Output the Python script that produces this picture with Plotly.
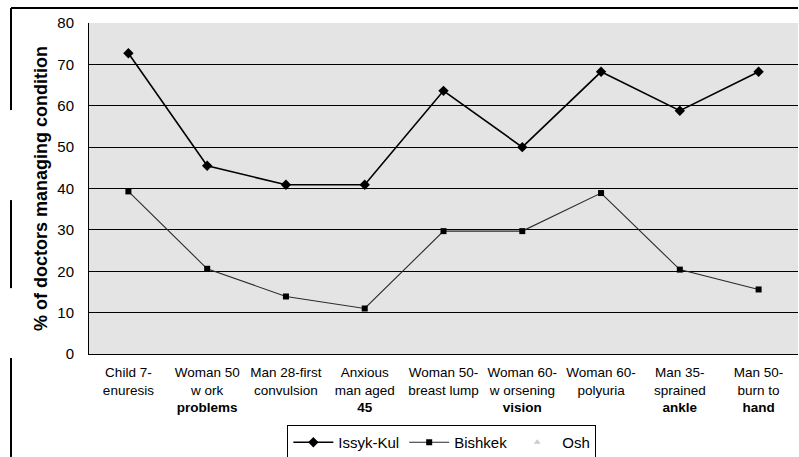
import plotly.graph_objects as go

# Clinical scenarios (x categories)
categories = [
    "Child 7-<br>enuresis",
    "Woman 50<br>w ork<br><b>problems</b>",
    "Man 28-first<br>convulsion",
    "Anxious<br>man aged<br><b>45</b>",
    "Woman 50-<br>breast lump",
    "Woman 60-<br>w orsening<br><b>vision</b>",
    "Woman 60-<br>polyuria",
    "Man 35-<br>sprained<br><b>ankle</b>",
    "Man 50-<br>burn to<br><b>hand</b>",
]

# % of doctors managing each condition, by region
issyk_kul = [72.7, 45.5, 40.9, 40.9, 63.6, 50.0, 68.2, 58.8, 68.2]
bishkek = [39.3, 20.6, 13.9, 11.0, 29.7, 29.7, 38.9, 20.4, 15.6]
osh = [None] * len(categories)

y_ticks = [0, 10, 20, 30, 40, 50, 60, 70, 80]

fig = go.Figure()
fig.add_trace(go.Scatter(
    x=categories, y=issyk_kul, name="Issyk-Kul", mode="lines+markers",
    line=dict(color="black", width=1.6),
    marker=dict(symbol="diamond", size=8, color="black"),
))
fig.add_trace(go.Scatter(
    x=categories, y=bishkek, name="Bishkek", mode="lines+markers",
    line=dict(color="#2a2a2a", width=1.1),
    marker=dict(symbol="square", size=6, color="black"),
))
fig.add_trace(go.Scatter(
    x=categories, y=osh, name="Osh", mode="lines+markers",
    line=dict(color="rgba(0,0,0,0)", width=1),
    marker=dict(symbol="triangle-up", size=6, color="#cccccc"),
))

# scanned page frame: top rule and broken left rule
frame = dict(color="black", width=2)
shapes = [
    dict(type="line", xref="paper", yref="paper", x0=-0.11, x1=1.0,
         y0=1.045, y1=1.045, line=frame),
    dict(type="line", xref="paper", yref="paper", x0=-0.11, x1=-0.11,
         y0=1.045, y1=0.737, line=frame),
    dict(type="line", xref="paper", yref="paper", x0=-0.11, x1=-0.11,
         y0=0.465, y1=0.199, line=frame),
    dict(type="line", xref="paper", yref="paper", x0=-0.11, x1=-0.11,
         y0=-0.012, y1=-0.311, line=frame),
]

fig.update_layout(
    width=799, height=457,
    margin=dict(l=89, r=1, t=23, b=103),
    paper_bgcolor="white",
    plot_bgcolor="#e4e4e4",
    font=dict(family="Arial, Liberation Sans, sans-serif", color="black"),
    showlegend=True,
    legend=dict(
        orientation="h", xref="container", yref="container",
        x=0.553, xanchor="center", y=0.07, yanchor="top",
        bordercolor="black", borderwidth=1, bgcolor="white",
        font=dict(size=15), itemwidth=40,
    ),
    xaxis=dict(
        type="category", showgrid=False, showline=True, linecolor="black",
        linewidth=1, ticks="outside", ticklen=6,
        tickcolor="rgba(0,0,0,0)", tickfont=dict(size=13.5), tickangle=0,
        range=[-0.5, len(categories) - 0.5],
    ),
    yaxis=dict(
        range=[0, 80], tickvals=y_ticks, showgrid=True, gridcolor="black",
        gridwidth=1, showline=True, linecolor="black", linewidth=1,
        ticks="outside", ticklen=11, tickcolor="rgba(0,0,0,0)",
        tickfont=dict(size=15),
        title=dict(text="<b>% of doctors managing condition</b>",
                   font=dict(size=18), standoff=5),
        zeroline=False,
    ),
    shapes=shapes,
)

fig.write_html("out.html")
